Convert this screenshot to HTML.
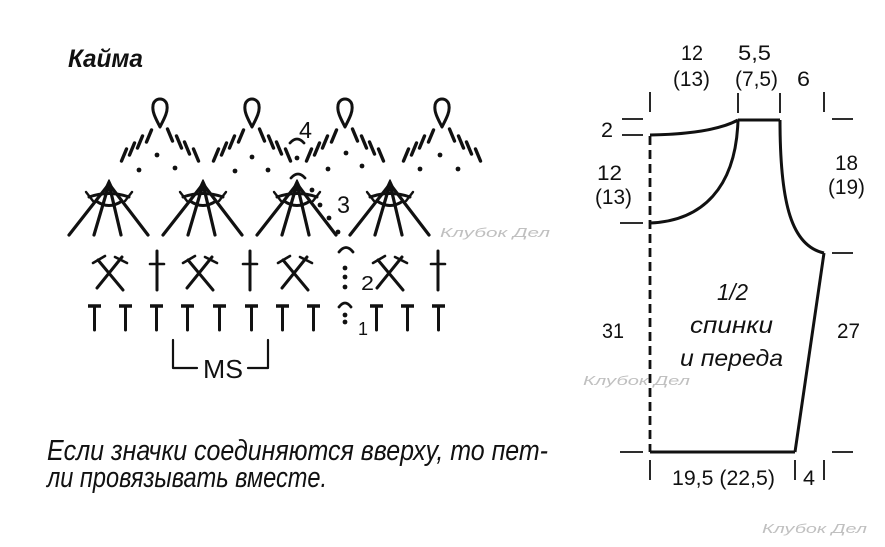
<!DOCTYPE html>
<html><head><meta charset="utf-8"><style>
html,body{margin:0;padding:0;background:#fff;}
svg{display:block;}
text{font-family:"Liberation Sans","DejaVu Sans",sans-serif;fill:#111;}
</style></head><body>
<svg width="885" height="547" viewBox="0 0 885 547" xmlns="http://www.w3.org/2000/svg">
<rect width="885" height="547" fill="#fff"/>

<!-- Title -->
<text x="68" y="67" font-size="25" font-weight="bold" font-style="italic" textLength="75" lengthAdjust="spacingAndGlyphs">Кайма</text>

<g stroke="#111" fill="none" stroke-linecap="round" stroke-linejoin="round">
<!-- Row 4: picots, chain dashes -->
<g id="m1" stroke-width="3">
  <path d="M160,127 C156,119 152,112 153,106 A7,7 0 1 1 167,106 C168,112 164,119 160,127 Z"/>
  <g stroke-width="3.4">
  <line x1="121.5" y1="161" x2="126.5" y2="149"/>
  <line x1="129.5" y1="155" x2="134.5" y2="143"/>
  <line x1="137.5" y1="148" x2="142.5" y2="136"/>
  <line x1="146.5" y1="142" x2="151.5" y2="130"/>
  <line x1="172.5" y1="141" x2="167.5" y2="129"/>
  <line x1="181.5" y1="148" x2="176.5" y2="136"/>
  <line x1="189.5" y1="154" x2="184.5" y2="142"/>
  <line x1="198.5" y1="161" x2="193.5" y2="149"/>
  </g>
</g>
<use href="#m1" x="92"/>
<use href="#m1" x="185"/>
<use href="#m1" x="282"/>
</g>

<!-- dots -->
<g fill="#111">
  <circle cx="157" cy="155" r="2.4"/><circle cx="139" cy="170" r="2.4"/><circle cx="175" cy="168" r="2.4"/>
  <circle cx="252" cy="157" r="2.4"/><circle cx="235" cy="171" r="2.4"/><circle cx="268" cy="170" r="2.4"/>
  <circle cx="346" cy="153" r="2.4"/><circle cx="328" cy="169" r="2.4"/><circle cx="362" cy="166" r="2.4"/>
  <circle cx="440" cy="155" r="2.4"/><circle cx="420" cy="169" r="2.4"/><circle cx="458" cy="169" r="2.4"/>
  <circle cx="297" cy="158" r="2.4"/>
  <circle cx="312" cy="190" r="2.4"/><circle cx="320" cy="205" r="2.4"/><circle cx="329" cy="218" r="2.4"/><circle cx="338" cy="232" r="2.4"/>
  <circle cx="345" cy="268" r="2.4"/><circle cx="345" cy="277" r="2.4"/><circle cx="345" cy="287" r="2.4"/>
  <circle cx="345" cy="315" r="2.4"/><circle cx="345" cy="322" r="2.4"/>
</g>

<g stroke="#111" fill="none" stroke-linecap="round" stroke-linejoin="round">
<!-- arcs of markers -->
<path d="M290,143 Q297,135 304,143" stroke-width="2.8"/>
<path d="M291,178 Q298,170 305,178" stroke-width="2.8"/>
<path d="M339,252 Q346,243 353,252" stroke-width="2.8"/>
<path d="M339,307 Q345,299 351,307" stroke-width="2.8"/>

<!-- Row 3: fans -->
<g id="f1" stroke-width="3.2">
  <line x1="109" y1="184" x2="69" y2="235"/>
  <line x1="109" y1="184" x2="94" y2="235"/>
  <line x1="109" y1="184" x2="121" y2="235"/>
  <line x1="109" y1="184" x2="148" y2="235"/>
  <path d="M89,197 Q109,190 129,197" stroke-width="3"/>
  <path d="M96,201 Q109,210 122,201" stroke-width="3"/>
  <line x1="86" y1="192" x2="93" y2="201" stroke-width="2.4"/>
  <line x1="132" y1="192" x2="125" y2="201" stroke-width="2.4"/>
  <polygon points="109,180 104,191 114,191" fill="#111" stroke-width="1.5"/>
</g>
<use href="#f1" x="94"/>
<use href="#f1" x="188"/>
<use href="#f1" x="281"/>

<!-- Row 2: crossed stitches -->
<g id="x1" stroke-width="3">
  <line x1="98" y1="260" x2="123" y2="290"/>
  <line x1="122" y1="257" x2="97" y2="288"/>
  <line x1="93" y1="263" x2="105" y2="256" stroke-width="2.6"/>
  <line x1="115" y1="257" x2="127" y2="263" stroke-width="2.6"/>
</g>
<use href="#x1" x="90"/>
<use href="#x1" x="185"/>
<use href="#x1" x="280"/>
<g id="c1" stroke-width="3">
  <line x1="157" y1="251" x2="157" y2="290"/>
  <line x1="150" y1="264" x2="164" y2="264" stroke-width="2.6"/>
</g>
<use href="#c1" x="93"/>
<use href="#c1" x="281"/>

<!-- Row 1: T stitches -->
<g id="t1">
  <line x1="88" y1="306" x2="101" y2="306" stroke-width="3.5" stroke-linecap="butt"/>
  <line x1="94.5" y1="306" x2="94.5" y2="330" stroke-width="3"/>
</g>
<use href="#t1" x="31"/>
<use href="#t1" x="62"/>
<use href="#t1" x="93"/>
<use href="#t1" x="125"/>
<use href="#t1" x="157"/>
<use href="#t1" x="188"/>
<use href="#t1" x="219"/>
<use href="#t1" x="282"/>
<use href="#t1" x="313"/>
<use href="#t1" x="344"/>

<!-- MS bracket -->
<polyline points="173,340 173,368 197,368" stroke-width="2.2"/>
<polyline points="248,368 268,368 268,340" stroke-width="2.2"/>
</g>

<text x="203" y="378" font-size="26" textLength="40" lengthAdjust="spacingAndGlyphs">MS</text>
<text x="299" y="138" font-size="23" textLength="13" lengthAdjust="spacingAndGlyphs">4</text>
<text x="337" y="213" font-size="24" textLength="13" lengthAdjust="spacingAndGlyphs">3</text>
<text x="361" y="290" font-size="20" textLength="13" lengthAdjust="spacingAndGlyphs">2</text>
<text x="358" y="335" font-size="18" textLength="10" lengthAdjust="spacingAndGlyphs">1</text>

<!-- bottom note -->
<text x="47" y="460" font-size="29" font-style="italic" textLength="501" lengthAdjust="spacingAndGlyphs">Если значки соединяются вверху, то пет-</text>
<text x="47" y="487" font-size="29" font-style="italic" textLength="280" lengthAdjust="spacingAndGlyphs">ли провязывать вместе.</text>

<!-- watermarks -->
<g font-family="Liberation Serif, serif" font-style="italic" font-size="13">
<text x="440" y="237" textLength="110" lengthAdjust="spacingAndGlyphs" style="fill:#c0c0c0">Клубок Дел</text>
<text x="583" y="385" textLength="107" lengthAdjust="spacingAndGlyphs" style="fill:#c0c0c0">Клубок Дел</text>
<text x="762" y="533" textLength="105" lengthAdjust="spacingAndGlyphs" style="fill:#c0c0c0">Клубок Дел</text>
</g>

<!-- Right schematic -->
<g stroke="#111" fill="none" stroke-linecap="butt" stroke-linejoin="round">
  <line x1="650" y1="136" x2="650" y2="452" stroke-width="2.8" stroke-dasharray="9,5"/>
  <path d="M650,135 Q712,134 738,120" stroke-width="3"/>
  <line x1="738" y1="120" x2="780" y2="120" stroke-width="3"/>
  <path d="M738,120 C736,188 702,221 650,223" stroke-width="3"/>
  <path d="M780,120 C780,205 792,246 824,253" stroke-width="3"/>
  <line x1="824" y1="253" x2="795" y2="452" stroke-width="3"/>
  <line x1="650" y1="452" x2="795" y2="452" stroke-width="3"/>

  <g stroke-width="1.8">
  <line x1="650" y1="92" x2="650" y2="112"/>
  <line x1="738" y1="93" x2="738" y2="113"/>
  <line x1="780" y1="93" x2="780" y2="113"/>
  <line x1="824" y1="92" x2="824" y2="112"/>
  <line x1="622" y1="119" x2="643" y2="119"/>
  <line x1="622" y1="135" x2="643" y2="135"/>
  <line x1="620" y1="223" x2="643" y2="223"/>
  <line x1="620" y1="452" x2="643" y2="452"/>
  <line x1="832" y1="119" x2="853" y2="119"/>
  <line x1="832" y1="253" x2="853" y2="253"/>
  <line x1="832" y1="452" x2="853" y2="452"/>
  <line x1="650" y1="460" x2="650" y2="480"/>
  <line x1="795" y1="460" x2="795" y2="480"/>
  <line x1="824" y1="460" x2="824" y2="480"/>
  </g>
</g>

<g font-size="21">
<text x="681" y="60" textLength="22" lengthAdjust="spacingAndGlyphs">12</text>
<text x="673" y="86" textLength="37" lengthAdjust="spacingAndGlyphs">(13)</text>
<text x="738" y="60" textLength="33" lengthAdjust="spacingAndGlyphs">5,5</text>
<text x="735" y="86" textLength="43" lengthAdjust="spacingAndGlyphs">(7,5)</text>
<text x="797" y="86" textLength="13" lengthAdjust="spacingAndGlyphs">6</text>
<text x="601" y="137" textLength="12" lengthAdjust="spacingAndGlyphs">2</text>
<text x="597" y="180" textLength="25" lengthAdjust="spacingAndGlyphs">12</text>
<text x="595" y="204" textLength="37" lengthAdjust="spacingAndGlyphs">(13)</text>
<text x="835" y="170" textLength="23" lengthAdjust="spacingAndGlyphs">18</text>
<text x="828" y="194" textLength="37" lengthAdjust="spacingAndGlyphs">(19)</text>
<text x="602" y="338" textLength="22" lengthAdjust="spacingAndGlyphs">31</text>
<text x="837" y="338" textLength="23" lengthAdjust="spacingAndGlyphs">27</text>
<text x="672" y="485" textLength="103" lengthAdjust="spacingAndGlyphs">19,5 (22,5)</text>
<text x="803" y="485" textLength="12" lengthAdjust="spacingAndGlyphs">4</text>
</g>
<g font-size="23" font-style="italic">
<text x="717" y="300" textLength="31" lengthAdjust="spacingAndGlyphs">1/2</text>
<text x="690" y="333" textLength="83" lengthAdjust="spacingAndGlyphs">спинки</text>
<text x="680" y="366" textLength="103" lengthAdjust="spacingAndGlyphs">и переда</text>
</g>
</svg>
</body></html>
